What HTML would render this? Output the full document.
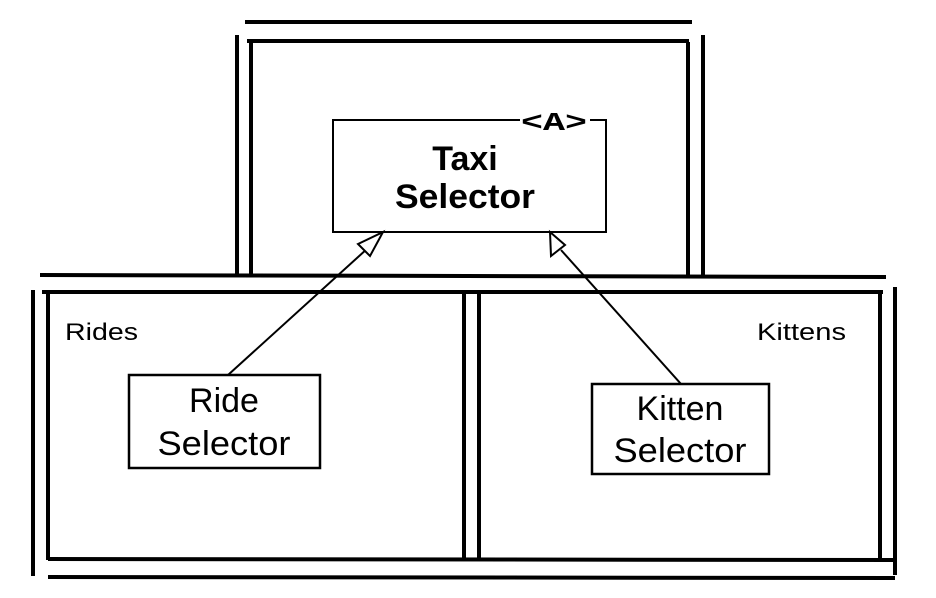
<!DOCTYPE html>
<html><head><style>body{margin:0;background:#fff}svg{display:block}</style></head><body>
<svg width="936" height="598" viewBox="0 0 936 598" xmlns="http://www.w3.org/2000/svg" font-family="Liberation Sans, sans-serif">
<g stroke="#000" fill="none">
<line x1="245" y1="22" x2="692" y2="22" stroke-width="4"/>
<line x1="247" y1="41" x2="689" y2="41" stroke-width="4"/>
<line x1="237" y1="35" x2="237" y2="276" stroke-width="4"/>
<line x1="251" y1="42" x2="251" y2="276" stroke-width="4"/>
<line x1="688" y1="42" x2="688" y2="276" stroke-width="4"/>
<line x1="703" y1="35" x2="703" y2="276" stroke-width="4"/>
<line x1="40" y1="275" x2="886" y2="277" stroke-width="4"/>
<line x1="42" y1="292" x2="883" y2="292" stroke-width="4"/>
<line x1="33" y1="290" x2="33" y2="576" stroke-width="4"/>
<line x1="48" y1="292" x2="48" y2="560" stroke-width="4"/>
<line x1="464" y1="292" x2="464" y2="560" stroke-width="4"/>
<line x1="479" y1="292" x2="479" y2="560" stroke-width="4"/>
<line x1="880" y1="292" x2="880" y2="560" stroke-width="4"/>
<line x1="895" y1="287" x2="895" y2="575" stroke-width="4"/>
<line x1="48" y1="559" x2="895" y2="560" stroke-width="4"/>
<line x1="48" y1="577" x2="895" y2="578" stroke-width="4"/>
<polyline points="520,120 333,120 333,232 606,232 606,120 590,120" stroke-width="2"/>
<rect x="129" y="375" width="191" height="93" stroke-width="2.5"/>
<rect x="592" y="384" width="177" height="90" stroke-width="2.5"/>
<line x1="228" y1="375" x2="368" y2="248" stroke-width="2"/>
<polygon points="383,232 358,244 370,256" fill="#fff" stroke-width="2"/>
<line x1="681" y1="384" x2="561" y2="250" stroke-width="2"/>
<polygon points="550,232 551,256 565,245" fill="#fff" stroke-width="2"/>
</g>
<text x="521" y="130" font-family="Liberation Mono, monospace" font-weight="bold" font-size="26" textLength="66" lengthAdjust="spacingAndGlyphs">&lt;A&gt;</text>
<text x="465" y="170" font-weight="bold" font-size="34" text-anchor="middle">Taxi</text>
<text x="465" y="208" font-weight="bold" font-size="34" text-anchor="middle" textLength="140" lengthAdjust="spacingAndGlyphs">Selector</text>
<text x="65" y="340" font-size="24" textLength="73" lengthAdjust="spacingAndGlyphs">Rides</text>
<text x="757" y="340" font-size="24" textLength="89" lengthAdjust="spacingAndGlyphs">Kittens</text>
<text x="224" y="412" font-size="34" text-anchor="middle">Ride</text>
<text x="224" y="455" font-size="34" text-anchor="middle" textLength="133" lengthAdjust="spacingAndGlyphs">Selector</text>
<text x="680" y="420" font-size="34" text-anchor="middle">Kitten</text>
<text x="680" y="462" font-size="34" text-anchor="middle" textLength="133" lengthAdjust="spacingAndGlyphs">Selector</text>
</svg>
</body></html>
